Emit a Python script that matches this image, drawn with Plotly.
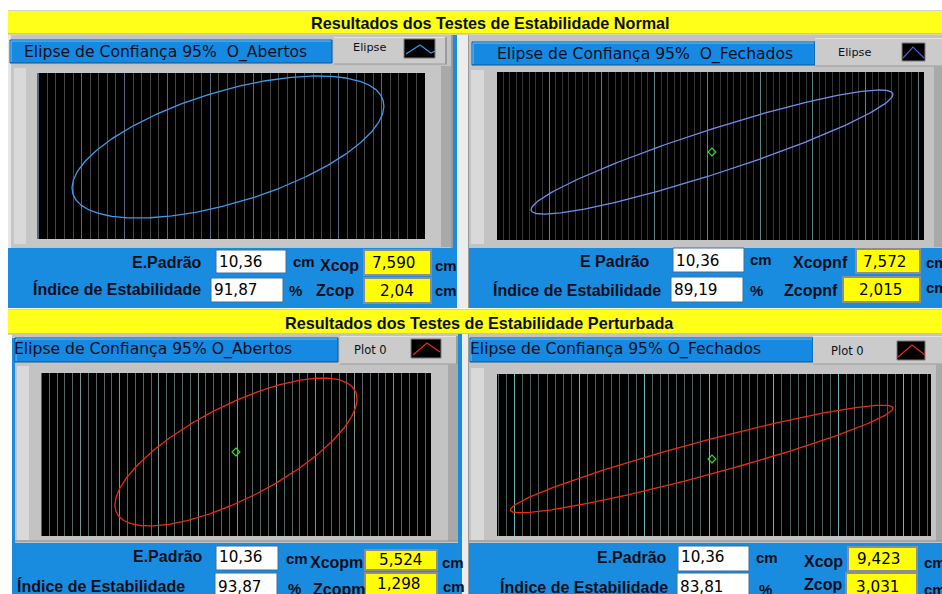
import numpy as np
import plotly.graph_objects as go

W, H = 942, 594

# ---------------- values ----------------
banner_titles = ["Resultados dos Testes de Estabilidade Normal",
                 "Resultados dos Testes de Estabilidade Perturbada"]
panel_titles = ["Elipse de Confiança 95%  O_Abertos",
                "Elipse de Confiança 95%  O_Fechados",
                "Elipse de Confiança 95% O_Abertos",
                "Elipse de Confiança 95% O_Fechados"]
legend_names = ["Elipse", "Elipse", "Plot 0", "Plot 0"]
std_labels = ["E.Padrão", "E Padrão", "E.Padrão", "E.Padrão"]
std_values = ["10,36", "10,36", "10,36", "10,36"]
index_label = "Índice de Estabilidade"
index_values = ["91,87", "89,19", "93,87", "83,81"]
x_labels = ["Xcop", "Xcopnf", "Xcopm", "Xcop"]
x_values = ["7,590", "7,572", "5,524", "9,423"]
z_labels = ["Zcop", "Zcopnf", "Zcopm", "Zcop"]
z_values = ["2,04", "2,015", "1,298", "3,031"]

# 95% confidence ellipses, in grid divisions: centre, semi-axes, tilt (deg)
ellipse_cx = [21.07, 0.71, 23.84, -0.90]
ellipse_cy = [10.73, 13.35, 10.73, 9.51]
ellipse_a = [18.89, 28.83, 17.11, 24.44]
ellipse_b = [6.51, 3.34, 5.95, 2.10]
ellipse_tilt = [16.8, 17.9, 27.2, 15.0]

# mean centre of pressure (grid divisions); None where not plotted
cop_x = [None, 0.71, 23.84, 0.37]
cop_y = [None, 13.35, 10.73, 9.51]

# ---------------- panel geometry / styling (px) ----------------
panels = [
    dict(plot=(37.5, 73, 425, 239), step=8.575, origin=47.3, major=5, major0=4,
         minor_c="#454545", major_c="#55677a", curve="#3d9be9"),
    dict(plot=(497, 72, 924, 240), step=6.59, origin=707.3, major=8, major0=0,
         minor_c="#363636", major_c="#5f8383", curve="#7090f0"),
    dict(plot=(41.5, 373, 431, 536), step=7.83, origin=49.3, major=5, major0=4,
         minor_c="#566666", major_c="#7c9696", curve="#ee2a10"),
    dict(plot=(497, 374, 931, 536), step=8.1, origin=709, major=8, major0=0,
         minor_c="#4d5c5c", major_c="#72b4b4", curve="#ee2a10"),
]

BLUE = "#1a8ce0"
HDR_BLUE = "#1689e2"
GRAY = "#c3c3c3"
YELLOW = "#ffff17"
LAB_FONT = "Liberation Sans"
HDR_FONT = "DejaVu Sans"
TXT = "#0b0f1a"

shapes = []
annotations = []


def px(x):
    return x / W


def py(y):
    return 1 - y / H


def box(x0, y0, x1, y1, fill, line=None, lw=1):
    shapes.append(dict(type="rect", xref="paper", yref="paper",
                       x0=px(x0), x1=px(x1), y0=py(y1), y1=py(y0),
                       fillcolor=fill, layer="below",
                       line=dict(color=line if line else fill, width=lw if line else 0)))


def seg(x0, y0, x1, y1, color, w=1):
    shapes.append(dict(type="line", xref="paper", yref="paper",
                       x0=px(x0), x1=px(x1), y0=py(y0), y1=py(y1),
                       layer="below", line=dict(color=color, width=w)))


def poly(points, color, w=1.2):
    d = "M " + " L ".join(f"{px(x):.5f},{py(y):.5f}" for x, y in points)
    shapes.append(dict(type="path", xref="paper", yref="paper", path=d,
                       layer="above", line=dict(color=color, width=w)))


def text(x, y, s, size=16, bold=False, anchor="left", font=LAB_FONT, color=TXT):
    annotations.append(dict(x=px(x), y=py(y), xref="paper", yref="paper",
                            text=f"<b>{s}</b>" if bold else s, showarrow=False,
                            xanchor=anchor, yanchor="middle",
                            font=dict(family=font, size=size, color=color)))


def header(x0, y0, x1, y1):
    box(x0, y0, x1, y1, HDR_BLUE, "#0c5592", 1)
    seg(x0 + 1, y0 + 1, x1 - 1, y0 + 1, "#6cc2ff", 1)
    seg(x0 + 1, y0 + 1, x0 + 1, y1 - 1, "#6cc2ff", 1)


def legend_box(x0, y0, x1, y1):
    box(x0, y0, x1, y1, "#cbcbcb")
    seg(x0, y0 + 0.5, x1, y0 + 0.5, "#e4e4e4", 1)
    seg(x1 - 1, y0, x1 - 1, y1, "#8c8c8c", 1.5)
    seg(x0, y1, x1, y1, "#9a9a9a", 1)


def white_box(x0, y0, x1, y1):
    box(x0, y0, x1, y1, "#ffffff", "#3f6f9f", 1)


def yellow_box(x0, y0, x1, y1):
    box(x0, y0, x1, y1, "#ffff00", "#8e8e8e", 2)


# ---------------- panel chrome ----------------
# banners
for (y0, y1) in [(11, 34), (310, 334)]:
    seg(8, y0 - 0.5, 942, y0 - 0.5, "#d2d2d2", 1)
    box(8, y0, 942, y1, YELLOW)
    seg(8, y1, 942, y1, "#a9a97a", 1)
text(490, 23, banner_titles[0], 16.2, True, "center")
text(479, 323, banner_titles[1], 16.2, True, "center")

# --- upper left
box(8, 35, 453, 248, GRAY)
box(8, 35, 11, 248, "#e6e6e6")
header(10, 40, 332, 63)
legend_box(334, 37, 447, 64)
box(404, 39, 435, 58, "#000000", "#7a7a7a", 1)
box(12, 66, 451, 247, "#c6c6c6")
box(14, 68, 26, 244, "#d9d9d9")
box(441, 66, 451, 247, "#a9a9a9")
seg(452, 35, 452, 248, "#707070", 1)
# separator strip
box(453, 35, 457, 308, BLUE)
box(457, 35, 468, 308, "#ececec")
seg(468.5, 35, 468.5, 308, "#9a9a9a", 1)
box(8, 248, 453, 308, BLUE)

# --- upper right
box(469, 35, 942, 248, GRAY)
header(472, 42, 815, 65)
legend_box(815, 38, 944, 66)
box(902, 43, 925, 61, "#000000", "#7a7a7a", 1)
box(471, 70, 484, 244, "#d9d9d9")
box(934, 66, 942, 247, "#a9a9a9")
box(469, 248, 942, 308, BLUE)

# --- lower left
box(12, 334, 460, 543, GRAY)
box(12, 338, 15, 594, BLUE)
header(15, 338, 338, 362)
legend_box(340, 336, 458, 364)
box(411, 339, 441, 358, "#000000", "#7a7a7a", 1)
box(17, 366, 29, 540, "#d9d9d9")
box(448, 364, 458, 541, "#a9a9a9")
seg(15, 541, 458, 541, "#8a8a8a", 1)
box(458, 334, 462, 594, BLUE)
box(462, 334, 468, 594, "#ececec")
seg(468.5, 334, 468.5, 594, "#9a9a9a", 1)
box(12, 543, 458, 594, BLUE)

# --- lower right
box(469, 334, 942, 543, GRAY)
header(470, 338, 813, 362)
legend_box(813, 336, 944, 364)
box(897, 341, 925, 360, "#000000", "#7a7a7a", 1)
box(471, 368, 484, 540, "#d9d9d9")
box(936, 364, 942, 541, "#a9a9a9")
seg(469, 541, 942, 541, "#8a8a8a", 1)
box(469, 543, 942, 594, BLUE)

# plot backgrounds
for p in panels:
    x0, y0, x1, y1 = p["plot"]
    box(x0, y0, x1, y1, "#000000")

# legend swatches
poly([(406, 54), (420, 45), (431, 53), (435, 51)], "#3d9be9")
poly([(903, 58), (913, 47), (924, 58)], "#4a62d8")
poly([(413, 355), (427, 343), (440, 352)], "#ee2a10")
poly([(898, 357), (912, 345), (925, 355)], "#ee2a10")

# headers and legend names
text(22, 52, panel_titles[0], 15.6, False, "left", HDR_FONT)
text(495, 54, panel_titles[1], 15.6, False, "left", HDR_FONT)
text(12, 349, panel_titles[2], 15.6, False, "left", HDR_FONT)
text(468, 349, panel_titles[3], 15.6, False, "left", HDR_FONT)
text(369, 48, legend_names[0], 11.3, False, "center", HDR_FONT)
text(854, 53, legend_names[1], 11.3, False, "center", HDR_FONT)
text(370, 350, legend_names[2], 11.5, False, "center", HDR_FONT)
text(847, 351, legend_names[3], 11.5, False, "center", HDR_FONT)

# ---------------- readouts ----------------
readout_layout = [
    dict(w1=(216, 250, 286, 273), y1=(364, 250, 431, 275), w2=(211, 278, 283, 302), y2=(364, 278, 431, 303),
         std=(204, 262), idx=(203, 289), v1y=262, v2y=290, yv1=(393, 263), yv2=(397, 291),
         cm1=(291, 261), xl=(318, 265), cm2=(433, 265), pc=(287, 290), zl=(314, 291), cm3=(433, 291)),
    dict(w1=(673, 248, 744, 272), y1=(856, 249, 920, 273), w2=(671, 277, 743, 302), y2=(843, 277, 920, 302),
         std=(652, 261), idx=(663, 290), v1y=261, v2y=290, yv1=(884, 262), yv2=(880, 290),
         cm1=(748, 259), xl=(791, 263), cm2=(924, 263), pc=(748, 290), zl=(782, 290), cm3=(924, 287)),
    dict(w1=(216, 546, 278, 570), y1=(365, 550, 437, 570), w2=(215, 573, 277, 596), y2=(365, 573, 437, 596),
         std=(205, 556), idx=(187, 586), v1y=557, v2y=587, yv1=(400, 560), yv2=(398, 584),
         cm1=(284, 558), xl=(308, 562), cm2=(440, 562), pc=(286, 588), zl=(311, 589), cm3=(441, 586)),
    dict(w1=(678, 546, 749, 571), y1=(848, 547, 917, 571), w2=(677, 573, 749, 596), y2=(846, 573, 917, 596),
         std=(669, 557), idx=(670, 587), v1y=557, v2y=587, yv1=(878, 559), yv2=(877, 587),
         cm1=(754, 557), xl=(802, 561), cm2=(922, 562), pc=(757, 589), zl=(802, 584), cm3=(922, 589)),
]

for i, r in enumerate(readout_layout):
    white_box(*r["w1"])
    white_box(*r["w2"])
    yellow_box(*r["y1"])
    yellow_box(*r["y2"])
    text(r["std"][0], r["std"][1], std_labels[i], 16, True, "right")
    text(r["idx"][0], r["idx"][1], index_label, 16, True, "right")
    text(r["w1"][0] + 1, r["v1y"], std_values[i], 15.2, False, "left", HDR_FONT, "#000000")
    text(r["w2"][0] + 1, r["v2y"], index_values[i], 15.2, False, "left", HDR_FONT, "#000000")
    text(r["yv1"][0], r["yv1"][1], x_values[i], 15.2, False, "center", HDR_FONT, "#000000")
    text(r["yv2"][0], r["yv2"][1], z_values[i], 15.2, False, "center", HDR_FONT, "#000000")
    text(r["cm1"][0], r["cm1"][1], "cm", 15, True)
    text(r["xl"][0], r["xl"][1], x_labels[i], 16, True)
    text(r["cm2"][0], r["cm2"][1], "cm", 15, True)
    text(r["pc"][0], r["pc"][1], "%", 15, True)
    text(r["zl"][0], r["zl"][1], z_labels[i], 16, True)
    text(r["cm3"][0], r["cm3"][1], "cm", 15, True)

# ---------------- graphs ----------------
fig = go.Figure()
t = np.linspace(0, 2 * np.pi, 361)

for i, p in enumerate(panels):
    x0, y0, x1, y1 = p["plot"]
    s = p["step"]
    k = "" if i == 0 else str(i + 1)
    xa, ya = "x" + k, "y" + k
    phi = np.deg2rad(ellipse_tilt[i])
    ex = ellipse_cx[i] + ellipse_a[i] * np.cos(phi) * np.cos(t) - ellipse_b[i] * np.sin(phi) * np.sin(t)
    ey = ellipse_cy[i] + ellipse_a[i] * np.sin(phi) * np.cos(t) + ellipse_b[i] * np.cos(phi) * np.sin(t)
    fig.add_trace(go.Scatter(x=ex, y=ey, mode="lines", xaxis=xa, yaxis=ya,
                             line=dict(color=p["curve"], width=1.3), hoverinfo="skip",
                             showlegend=False))
    if cop_x[i] is not None:
        fig.add_trace(go.Scatter(x=[cop_x[i]], y=[cop_y[i]], mode="markers",
                                 xaxis=xa, yaxis=ya, hoverinfo="skip", showlegend=False,
                                 marker=dict(symbol="diamond-open", size=6,
                                             color="#3ad83a", line=dict(width=1.2))))
    xr = [(x0 - p["origin"]) / s, (x1 - p["origin"]) / s]
    yr = [0, (y1 - y0) / s]
    axx = dict(domain=[px(x0), px(x1)], range=xr, showticklabels=False, ticks="",
               zeroline=False, showline=False, showgrid=True,
               tick0=p["major0"], dtick=p["major"], gridcolor=p["major_c"], gridwidth=1,
               minor=dict(tick0=0, dtick=1, showgrid=True, gridcolor=p["minor_c"], gridwidth=1),
               fixedrange=True, anchor=ya)
    axy = dict(domain=[py(y1), py(y0)], range=yr, showticklabels=False, ticks="",
               zeroline=False, showline=False, showgrid=False, fixedrange=True, anchor=xa)
    fig.update_layout(**{("xaxis" + k): axx, ("yaxis" + k): axy})

fig.update_layout(width=W, height=H, margin=dict(l=0, r=0, t=0, b=0),
                  paper_bgcolor="#ffffff", plot_bgcolor="#000000",
                  shapes=shapes, annotations=annotations, showlegend=False)

fig.write_html("out.html")
